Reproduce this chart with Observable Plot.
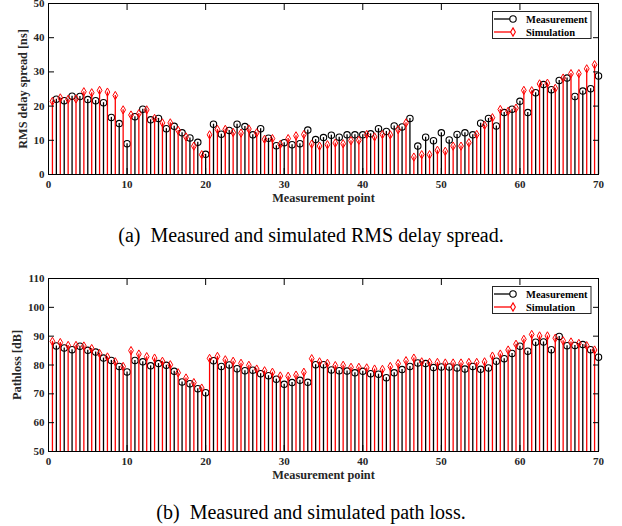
<!DOCTYPE html>
<html><head><meta charset="utf-8">
<script src="https://cdn.jsdelivr.net/npm/d3@7"></script>
<script src="https://cdn.jsdelivr.net/npm/@observablehq/plot@0.6"></script>
<style>
body{margin:0;background:#fff;}
#wrap{position:relative;width:622px;height:526px;overflow:hidden;font-family:"Liberation Serif","Times New Roman",serif;background:#fff;}
.cap{position:absolute;left:0;width:622px;text-align:center;font-size:20px;white-space:pre;color:#000;height:24px;line-height:24px;}
#wrap svg{position:absolute;left:0;}
</style></head><body><div id="wrap"></div>
<script>
const points = d3.range(1, 71);
const simOffset = 0.5;
const rmsMeasured = [22.0,21.6,22.9,22.8,21.9,21.6,21.0,16.7,14.9,9.0,
  16.9,19.1,16.0,16.4,13.4,14.1,12.2,10.7,9.4,5.9,
  14.7,11.8,12.9,14.7,14.0,11.6,13.4,10.6,8.4,9.3,
  8.7,9.0,13.0,10.2,10.8,11.5,10.9,11.6,11.6,11.6,
  11.9,13.4,12.6,14.2,13.9,16.4,8.3,10.9,9.9,12.2,
  10.1,11.7,12.2,11.6,15.0,16.4,14.2,18.1,19.1,21.4,
  18.1,23.9,26.3,24.8,27.5,28.2,22.8,24.4,25.1,28.8];
const rmsSimulated = [21.4,22.4,22.0,22.1,24.2,23.9,24.6,24.1,23.1,18.9,
  17.4,17.8,18.9,16.4,15.1,15.1,12.9,11.0,8.3,5.8,
  11.6,13.2,13.2,12.3,12.1,13.3,12.2,10.3,10.5,8.8,
  10.5,11.3,11.7,8.9,8.3,8.7,9.2,9.0,9.9,10.0,
  11.7,11.0,11.7,11.6,13.1,15.1,5.1,5.8,5.8,7.1,
  6.8,8.3,8.3,9.3,11.7,14.4,16.6,19.0,18.5,19.4,
  24.6,24.5,26.5,26.7,25.2,28.2,29.5,29.5,30.9,32.1];
const plMeasured = [86.6,85.9,85.3,86.5,85.1,84.5,82.4,81.6,79.5,77.6,
  81.6,81.1,79.7,80.5,79.9,77.8,74.1,73.5,71.8,70.4,
  81.5,79.5,80.0,78.7,78.0,78.2,77.0,76.3,75.1,73.3,
  73.9,74.7,74.0,80.1,80.1,78.3,78.0,77.9,77.3,77.8,
  77.0,76.8,75.6,77.3,78.4,79.5,80.7,80.5,79.1,79.3,
  79.3,79.0,78.6,79.5,78.5,79.0,81.3,82.2,84.0,86.5,
  84.8,87.9,88.0,85.3,89.9,86.7,86.8,87.1,85.3,82.7];
const plSimulated = [88.2,87.8,86.8,86.8,86.6,85.7,84.0,82.8,81.1,79.5,
  85.0,83.8,82.9,82.4,81.3,80.1,77.3,75.5,73.9,72.0,
  82.3,83.0,81.8,81.3,80.6,79.9,78.6,78.0,77.5,76.2,
  76.1,76.5,77.5,82.2,81.1,80.6,79.8,79.9,79.2,79.2,
  79.0,78.6,78.5,79.5,80.5,81.5,82.4,81.1,80.9,80.9,
  80.7,80.7,80.7,80.9,80.9,81.1,83.1,83.8,85.2,87.2,
  88.9,90.6,90.1,90.1,89.3,88.4,88.0,87.5,86.7,85.2];
const xTicks = [0,10,20,30,40,50,60,70];
const rmsTicks = [0,10,20,30,40,50];
const plTicks = [50,60,70,80,90,100,110];
const seriesNames = ["Measurement","Simulation"];
const xLabel = "Measurement point";
const captions = ["(a)  Measured and simulated RMS delay spread.", "(b)  Measured and simulated path loss."];

const FONT = "Liberation Serif, Times New Roman, serif";
const TICKCOL = "#262626";

function panel({meas, sim, yDomain, yTicks, yLabel, marginTop, height, labelDx}) {
  const base = yDomain[0];
  const measData = points.map((p, i) => ({x: p, y: meas[i]}));
  const simData = points.map((p, i) => ({x: p - simOffset, y: sim[i]}));
  const tickText = {fontSize: 11, fontWeight: "bold", fill: TICKCOL, fontFamily: FONT};
  return Plot.plot({
    width: 622, height, marginTop, marginBottom: 39, marginLeft: 48, marginRight: 24,
    style: {fontFamily: FONT, background: "white", overflow: "visible"},
    x: {domain: [0, 70]},
    y: {domain: yDomain},
    marks: [
      Plot.ruleX(measData, {x: "x", y1: base, y2: "y", stroke: "#000", strokeWidth: 1.3}),
      Plot.dot(measData, {x: "x", y: "y", symbol: "circle", r: 3.2, fill: "none", stroke: "#000", strokeWidth: 1.1}),
      Plot.ruleX(simData, {x: "x", y1: base, y2: "y", stroke: "#ff0000", strokeWidth: 1.3}),
      Plot.dot(simData, {x: "x", y: "y", symbol: "diamond", r: 2.5, fill: "none", stroke: "#ff0000", strokeWidth: 1}),
      Plot.frame({stroke: "#000", strokeWidth: 1}),
      Plot.axisX(xTicks, {anchor: "bottom", tickSize: -6, fill: "none", label: null, stroke: "#000"}),
      Plot.axisX(xTicks, {anchor: "top", tickSize: -6, fill: "none", label: null, stroke: "#000"}),
      Plot.axisY(yTicks, {anchor: "left", tickSize: -6, fill: "none", label: null, stroke: "#000"}),
      Plot.axisY(yTicks, {anchor: "right", tickSize: -6, fill: "none", label: null, stroke: "#000"}),
      Plot.axisX(xTicks, {anchor: "bottom", tickSize: 0, tickPadding: 6, label: null, ...tickText}),
      Plot.axisY(yTicks, {anchor: "left", tickSize: 0, tickPadding: 4, label: null, ...tickText}),
      Plot.text([xLabel], {frameAnchor: "bottom", dy: 27, text: d => d, fontSize: 12.3, fontWeight: "bold", fill: TICKCOL, fontFamily: FONT}),
      Plot.text([yLabel], {frameAnchor: "left", dx: labelDx, rotate: -90, textAnchor: "middle", text: d => d, fontSize: 12.3, fontWeight: "bold", fill: TICKCOL, fontFamily: FONT})
    ]
  });
}

function addLegend(svg, top) {
  const g = d3.select(svg).append("g").attr("text-anchor", "start");
  g.append("rect").attr("x", 492.5).attr("y", top + 0.5).attr("width", 98.5).attr("height", 27)
    .attr("fill", "white").attr("stroke", "#262626").attr("stroke-width", 1);
  const rows = [{name: seriesNames[0], color: "#000", sym: d3.symbolCircle, size: Math.PI * 3.2 * 3.2},
                {name: seriesNames[1], color: "#ff0000", sym: d3.symbolDiamond, size: Math.PI * 2.5 * 2.5}];
  rows.forEach((r, i) => {
    const y = top + 8 + i * 13;
    g.append("line").attr("x1", 494).attr("x2", 513).attr("y1", y).attr("y2", y)
      .attr("stroke", r.color).attr("stroke-width", 1.3);
    g.append("path").attr("d", d3.symbol(r.sym, r.size)()).attr("transform", `translate(513,${y})`)
      .attr("fill", "white").attr("stroke", r.color).attr("stroke-width", 1.1);
    g.append("text").attr("x", 526).attr("y", y).attr("dy", "0.35em").attr("text-anchor", "start").text(r.name)
      .attr("font-family", FONT).attr("font-size", 10.5).attr("font-weight", "bold").attr("fill", "#000");
  });
}

const wrap = document.getElementById("wrap");

const top1 = panel({meas: rmsMeasured, sim: rmsSimulated, yDomain: [0, 50], yTicks: rmsTicks,
  yLabel: "RMS delay spread [ns]", marginTop: 3, height: 213, labelDx: -25.5});
top1.style.top = "0px";
addLegend(top1, 11);
wrap.appendChild(top1);

const cap1 = document.createElement("div");
cap1.className = "cap"; cap1.style.top = "223px"; cap1.textContent = captions[0];
wrap.appendChild(cap1);

const bot = panel({meas: plMeasured, sim: plSimulated, yDomain: [50, 110], yTicks: plTicks,
  yLabel: "Pathloss [dB]", marginTop: 13, height: 225, labelDx: -31.5});
bot.style.top = "265px";
addLegend(bot, 21);
wrap.appendChild(bot);

const cap2 = document.createElement("div");
cap2.className = "cap"; cap2.style.top = "500px"; cap2.textContent = captions[1];
wrap.appendChild(cap2);
</script></body></html>
